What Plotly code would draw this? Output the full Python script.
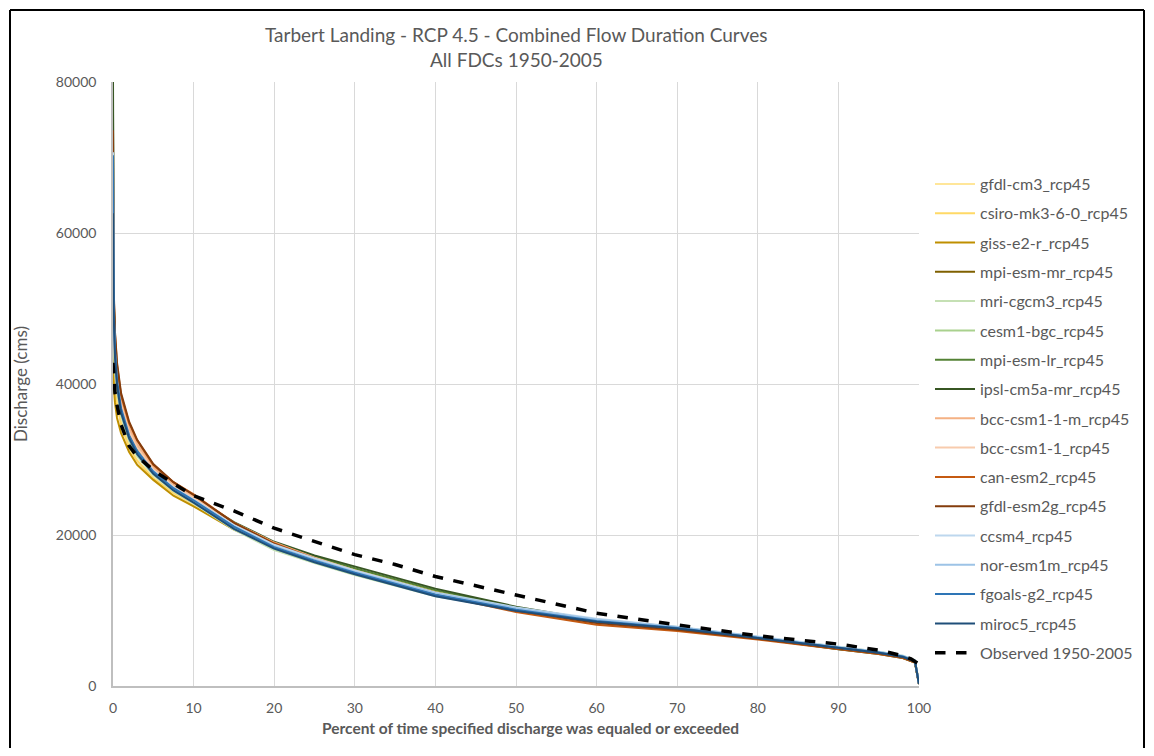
import plotly.graph_objects as go

# percent of time exceeded (shared x for the model runs)
pct = [0, 0.02, 0.1, 0.25, 0.5, 1, 2, 3, 5, 7.5, 10, 15, 20, 25, 30, 40, 50, 60, 70, 80, 90, 95, 98, 99.5, 100]

gfdl_cm3 = [48000, 45000, 42500, 40000, 37800, 35000, 31800, 29900, 27500, 25500, 24000, 20800, 18500, 16700, 15100, 12300, 10300, 8700, 7750, 6450, 5100, 4500, 3950, 3350, 300]
csiro = [46000, 43500, 41500, 39200, 37200, 34600, 31500, 29800, 27500, 25600, 24200, 21200, 18900, 17100, 15500, 12600, 10400, 8700, 7700, 6400, 5050, 4450, 3900, 3300, 300]
giss = [44000, 41500, 39500, 37500, 35500, 33500, 31000, 29300, 27300, 25200, 23800, 20700, 18400, 16700, 15200, 12400, 10200, 8600, 7650, 6350, 5000, 4400, 3850, 3250, 300]
mpi_esm_mr = [52000, 48000, 45000, 42000, 39500, 36400, 33000, 31000, 28400, 26300, 24700, 21300, 18700, 16900, 15300, 12400, 10200, 8600, 7650, 6350, 5000, 4400, 3850, 3250, 300]
mri_cgcm3 = [50000, 47000, 44500, 41500, 39000, 35800, 32400, 30400, 27900, 25800, 24200, 20700, 18000, 16300, 14700, 11900, 10100, 8700, 7800, 6500, 5150, 4550, 4000, 3400, 300]
cesm1_bgc = [55000, 49500, 46000, 42500, 39500, 36100, 32700, 30700, 28100, 26000, 24400, 20900, 18200, 16400, 14800, 12000, 10200, 8700, 7750, 6450, 5100, 4500, 3950, 3350, 300]
mpi_esm_lr = [76000, 58000, 50500, 45000, 41000, 37200, 33600, 31500, 28700, 26500, 24900, 21500, 19000, 17200, 15600, 12700, 10400, 8700, 7650, 6300, 4900, 4300, 3750, 3150, 250]
ipsl = [80000, 60000, 51000, 45500, 41500, 37500, 33800, 31700, 28900, 26700, 25100, 21700, 19100, 17300, 15800, 12900, 10500, 8700, 7650, 6300, 4850, 4250, 3700, 3100, 250]
bcc_m = [58000, 52000, 48000, 44000, 41000, 37800, 34200, 32000, 29000, 26800, 25100, 21600, 19000, 17000, 15300, 12300, 10100, 8500, 7600, 6350, 5000, 4400, 3850, 3250, 300]
bcc = [54000, 50000, 46500, 43000, 40200, 37200, 33700, 31600, 28700, 26500, 24900, 21400, 18800, 16900, 15200, 12300, 10200, 8600, 7650, 6400, 5050, 4450, 3900, 3300, 300]
can_esm2 = [66000, 57000, 51500, 46500, 42500, 38500, 34800, 32500, 29300, 27000, 25400, 21600, 18900, 16900, 15100, 12100, 9800, 8100, 7300, 6150, 4850, 4250, 3700, 3100, 250]
gfdl_esm2g = [73600, 58000, 52000, 46800, 42800, 38800, 35000, 32600, 29400, 27000, 25300, 21600, 18800, 16800, 15100, 12200, 10000, 8350, 7450, 6250, 4950, 4350, 3800, 3200, 250]
ccsm4 = [70700, 55000, 49000, 44000, 40200, 36500, 33000, 31000, 28500, 26300, 24700, 21300, 18700, 16900, 15300, 12400, 10400, 8900, 7850, 6550, 5150, 4550, 4000, 3400, 300]
nor_esm1m = [64000, 53000, 48000, 43200, 39700, 36300, 32900, 30900, 28300, 26100, 24500, 21100, 18500, 16700, 15100, 12300, 10300, 8800, 7800, 6500, 5100, 4500, 3950, 3350, 300]
fgoals = [70300, 56000, 50000, 44500, 40500, 36800, 33200, 31100, 28400, 26200, 24600, 21100, 18400, 16600, 15000, 12100, 10100, 8600, 7700, 6400, 5050, 4450, 3900, 3300, 300]
miroc5 = [62600, 54000, 48500, 43500, 39800, 36200, 32800, 30700, 28100, 25900, 24300, 20800, 18200, 16400, 14800, 11900, 9950, 8500, 7600, 6350, 5000, 4400, 3850, 3250, 250]

# observed record
pct_obs = [0, 0.1, 0.25, 0.5, 1, 2, 3, 5, 7.5, 10, 12.5, 15, 20, 25, 30, 35, 40, 50, 60, 70, 80, 90, 95, 98, 99, 100]
observed = [42800, 40200, 38800, 37200, 34600, 31800, 30400, 28600, 26800, 25200, 24200, 23200, 20900, 19100, 17400, 16100, 14500, 12050, 9650, 8100, 6650, 5550, 4750, 4000, 3600, 2900]

names = ["gfdl-cm3_rcp45", "csiro-mk3-6-0_rcp45", "giss-e2-r_rcp45", "mpi-esm-mr_rcp45",
         "mri-cgcm3_rcp45", "cesm1-bgc_rcp45", "mpi-esm-lr_rcp45", "ipsl-cm5a-mr_rcp45",
         "bcc-csm1-1-m_rcp45", "bcc-csm1-1_rcp45", "can-esm2_rcp45", "gfdl-esm2g_rcp45",
         "ccsm4_rcp45", "nor-esm1m_rcp45", "fgoals-g2_rcp45", "miroc5_rcp45"]
series = [gfdl_cm3, csiro, giss, mpi_esm_mr, mri_cgcm3, cesm1_bgc, mpi_esm_lr, ipsl,
          bcc_m, bcc, can_esm2, gfdl_esm2g, ccsm4, nor_esm1m, fgoals, miroc5]
colors = ["#FFE699", "#FFD966", "#BF8F00", "#7F6000", "#C5E0B4", "#A9D18E", "#548235", "#375623",
          "#F4B183", "#F8CBAD", "#C55A11", "#843C0C", "#BDD7EE", "#9DC3E6", "#2E75B6", "#1F4E79"]

fig = go.Figure()
for i, (nm, ys, c) in enumerate(zip(names, series, colors)):
    fig.add_trace(go.Scatter(x=pct, y=ys, mode="lines", name=nm, legendgroup=str(i),
                             line=dict(color=c, width=2)))
fig.add_trace(go.Scatter(x=pct_obs, y=observed, mode="lines", name="Observed 1950-2005",
                         legendgroup="obs", line=dict(color="black", width=3.5, dash="dash")))

# screen positions of the plot area; the page body adds an 8px margin all round
OFF = 8
W, H = 1154, 756
L, R, T, B = 113, 919, 82, 686


def px(x):
    return (x - L) / (R - L)


def py(y):
    return (B - y) / (B - T)


grey = "#595959"
fnt = "Lato"

# chart frame, kept just inside the drawable page
frame = [
    dict(x0=px(10), x1=px(10), y0=py(760), y1=py(10)),
    dict(x0=px(10), x1=px(1144), y0=py(10), y1=py(10)),
    dict(x0=px(1144), x1=px(1144), y0=py(760), y1=py(10)),
]
shapes = [dict(type="line", xref="paper", yref="paper", line=dict(color="black", width=2), **f)
          for f in frame]

fig.update_layout(
    width=W - 2 * OFF, height=H - 2 * OFF,
    margin=dict(l=L - OFF, r=W - OFF - R, t=T - OFF, b=H - OFF - B, autoexpand=False),
    paper_bgcolor="white", plot_bgcolor="white",
    font=dict(family=fnt, color=grey, size=13),
    showlegend=True,
    legend=dict(x=px(930), y=py(167), xanchor="left", yanchor="top",
                font=dict(size=16, color=grey), tracegroupgap=5.5,
                itemwidth=40, bgcolor="rgba(0,0,0,0)"),
    xaxis=dict(range=[0, 100], dtick=10, showgrid=True, gridcolor="#D9D9D9", gridwidth=1,
               zeroline=False, showline=True, linecolor="#BFBFBF", linewidth=1.5,
               ticks="", ticklabelstandoff=8, tickfont=dict(size=14, color=grey)),
    yaxis=dict(range=[0, 80000], dtick=20000, showgrid=True, gridcolor="#D9D9D9", gridwidth=1,
               zeroline=False, showline=True, linecolor="#BFBFBF", linewidth=1.5,
               ticks="", ticklabelstandoff=12, tickformat="d", tickfont=dict(size=14, color=grey)),
    annotations=[
        dict(text="Tarbert Landing - RCP 4.5 - Combined Flow Duration Curves", xref="paper", yref="paper",
             x=px(516), y=py(35), yanchor="middle", showarrow=False, font=dict(size=19, color=grey)),
        dict(text="All FDCs 1950-2005", xref="paper", yref="paper",
             x=px(516), y=py(60), yanchor="middle", showarrow=False, font=dict(size=19, color=grey)),
        dict(text="Discharge (cms)", xref="paper", yref="paper", x=px(20), y=py(384),
             textangle=-90, xanchor="center", yanchor="middle", showarrow=False,
             font=dict(size=17, color=grey)),
        dict(text="<b>Percent of time specified discharge was equaled or exceeded</b>", xref="paper",
             yref="paper", x=px(530), y=py(728), yanchor="middle", showarrow=False,
             font=dict(size=15.5, color=grey)),
    ],
    shapes=shapes,
)

fig.write_html("out.html")
